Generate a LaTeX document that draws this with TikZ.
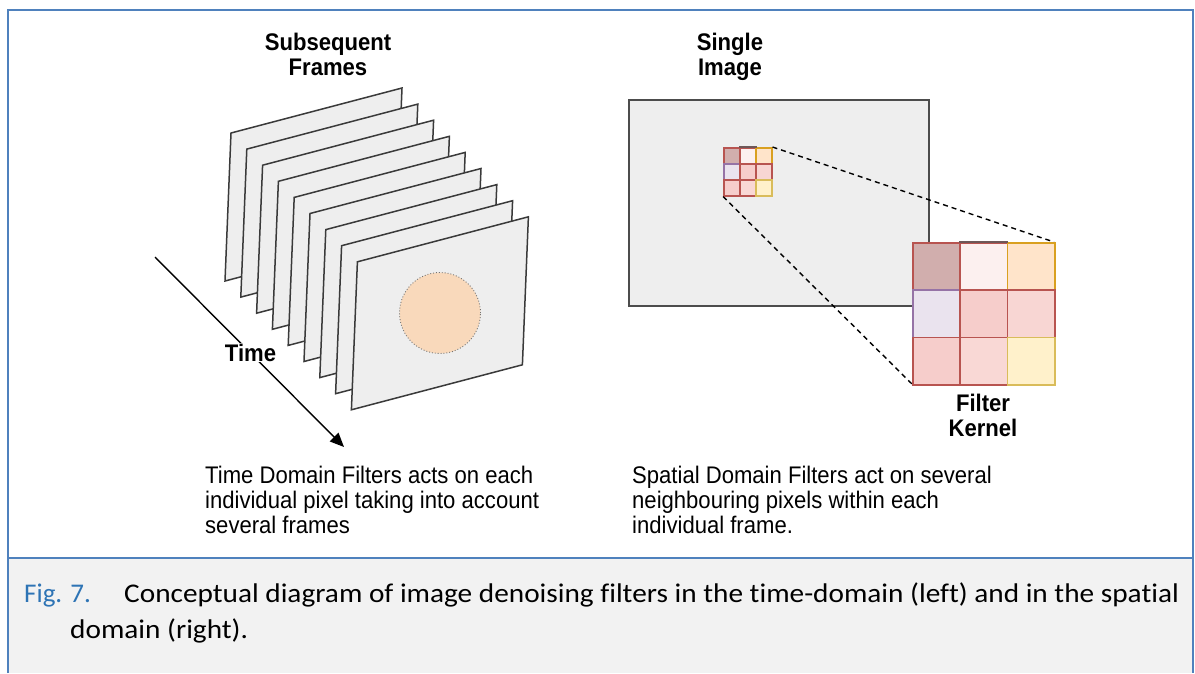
\documentclass[tikz,border=0pt]{standalone}
\usepackage{fontspec}
\setmainfont{Liberation Sans}
\newfontfamily\bodyf[FakeStretch=0.92]{Liberation Sans}
\newfontfamily\capf[Ligatures={NoCommon}]{Carlito}
\newfontfamily\capwide[Ligatures={NoCommon},FakeStretch=1.085]{Carlito}
\usetikzlibrary{arrows.meta}
\definecolor{frameblue}{HTML}{4F81BD}
\definecolor{figblue}{HTML}{2E74B5}
\definecolor{capbg}{HTML}{F2F2F2}
\definecolor{sheet}{HTML}{EEEEEE}
\definecolor{sheetline}{HTML}{3A3A3A}
\definecolor{peach}{HTML}{F9D9BB}
\definecolor{redline}{HTML}{B85450}
\definecolor{orangeline}{HTML}{D9A020}
\definecolor{purpleline}{HTML}{9673A6}
\definecolor{yellowline}{HTML}{D9BC5A}
\definecolor{darktop}{HTML}{6E5858}
\definecolor{fA}{HTML}{D1AEAD}
\definecolor{fB}{HTML}{FCF0EF}
\definecolor{fC}{HTML}{FFE4CA}
\definecolor{fD}{HTML}{EAE3EE}
\definecolor{fE}{HTML}{F6CDCB}
\definecolor{fF}{HTML}{F8D6D3}
\definecolor{fG}{HTML}{F6CDCB}
\definecolor{fH}{HTML}{F9D8D5}
\definecolor{fI}{HTML}{FFF1CB}
\tikzset{
  sheetbox/.style={fill=sheet, draw=sheetline, line width=1.5pt, line join=miter},
  lbl/.style={inner sep=0pt, anchor=base, font=\bodyf\bfseries\fontsize{24}{25}\selectfont},
  body/.style={inner sep=0pt, anchor=base west, font=\bodyf\fontsize{24}{25}\selectfont},
  captxt/.style={inner sep=0pt, anchor=base west, font=\capwide\fontsize{27}{36}\selectfont},
  figtxt/.style={inner sep=0pt, anchor=base west, font=\capf\fontsize{27}{36}\selectfont},
  scell/.style={draw, line width=1.5pt, minimum size=16pt, inner sep=0pt, anchor=north west},
  bcell/.style={draw, line width=1.5pt, minimum size=47.33pt, inner sep=0pt, anchor=north west},
  tarrow/.style={line width=1.4pt, -{Triangle[length=14pt,width=12pt]}},
  zoomline/.style={line width=1.4pt, dash pattern=on 5pt off 4pt}
}
\begin{document}
\begin{tikzpicture}[x=1pt,y=-1pt]
\useasboundingbox (0,0) rectangle (1195,673);
% caption background and frame
\fill[capbg] (8,558) rectangle (1193,673);
\draw[frameblue, line width=2pt] (8,673) -- (8,10) -- (1193,10) -- (1193,673);
\draw[frameblue, line width=2pt] (8,558) -- (1193,558);

% ---- left: subsequent frames
\foreach \k in {0,...,8} {
  \path[sheetbox] ({231+15.8*\k},{133+16.1*\k}) -- ++(171,-45) -- ++(-6,148) -- ++(-171,45) -- cycle;
}
\node[circle, minimum size=81pt, inner sep=0pt, fill=peach, draw=black!55, line width=0.9pt, dotted] (spot) at (440,313) {};

\coordinate (tstart) at (155,257);
\coordinate (tend) at (344,447);
\draw[tarrow] (tstart) -- (tend);
\node[lbl, fill=white, inner xsep=1pt, inner ysep=1pt] (time) at (250.5,361) {Time};

\node[lbl] (subs1) at (328,50) {Subsequent};
\node[lbl] (subs2) at (328,75) {Frames};

\node[body] (tl1) at (205,483) {Time Domain Filters acts on each};
\node[body] (tl2) at (205,508) {individual pixel taking into account};
\node[body] (tl3) at (205,533) {several frames};

% ---- right: single image
\node[lbl] (sing1) at (730,50) {Single};
\node[lbl] (sing2) at (730,75) {Image};
\node[draw=black!70, line width=1.6pt, fill=sheet, minimum width=300pt, minimum height=206pt, inner sep=0pt, anchor=north west] (img) at (628,99) {};

% small kernel
\node[scell, fill=fA, draw=redline]   (s11) at (723,147) {};
\node[scell, fill=fB, draw=redline]   (s12) at (739,147) {};
\node[scell, fill=fC, draw=orangeline](s13) at (755,147) {};
\node[scell, fill=fD, draw=purpleline](s21) at (723,163) {};
\node[scell, fill=fE, draw=redline]   (s22) at (739,163) {};
\node[scell, fill=fF, draw=redline]   (s23) at (755,163) {};
\node[scell, fill=fG, draw=redline]   (s31) at (723,179) {};
\node[scell, fill=fH, draw=redline]   (s32) at (739,179) {};
\node[scell, fill=fI, draw=yellowline](s33) at (755,179) {};
\draw[darktop, line width=1.5pt] (s12.north west) -- (s12.north east);

% zoom lines
\coordinate (bigNE) at (1054,242);
\coordinate (bigSW) at (912,384);
\draw[zoomline] (s13.north east) -- (bigNE);
\draw[zoomline] (s31.south west) -- (bigSW);

% big kernel
\node[bcell, fill=fA, draw=redline]   (b11) at (912,242) {};
\node[bcell, fill=fB, draw=redline]   (b12) at (959.33,242) {};
\node[bcell, fill=fC, draw=orangeline](b13) at (1006.67,242) {};
\node[bcell, fill=fD, draw=purpleline](b21) at (912,289.33) {};
\node[bcell, fill=fE, draw=redline]   (b22) at (959.33,289.33) {};
\node[bcell, fill=fF, draw=redline]   (b23) at (1006.67,289.33) {};
\node[bcell, fill=fG, draw=redline]   (b31) at (912,336.67) {};
\node[bcell, fill=fH, draw=redline]   (b32) at (959.33,336.67) {};
\node[bcell, fill=fI, draw=yellowline](b33) at (1006.67,336.67) {};
\draw[darktop, line width=1.5pt] (b12.north west) -- (b12.north east);

\node[lbl] (filt1) at (983,411.5) {Filter};
\node[lbl] (filt2) at (983,436) {Kernel};

\node[body] (sl1) at (632,483) {Spatial Domain Filters act on several};
\node[body] (sl2) at (632,508) {neighbouring pixels within each};
\node[body] (sl3) at (632,533) {individual frame.};

% ---- caption
\node[figtxt, text=figblue] (fig) at (24,602) {Fig. 7.};
\node[captxt] (cap1) at (124,602) {Conceptual diagram of image denoising filters in the time-domain (left) and in the spatial};
\node[captxt] (cap2) at (70,638) {domain (right).};
\end{tikzpicture}
\end{document}
